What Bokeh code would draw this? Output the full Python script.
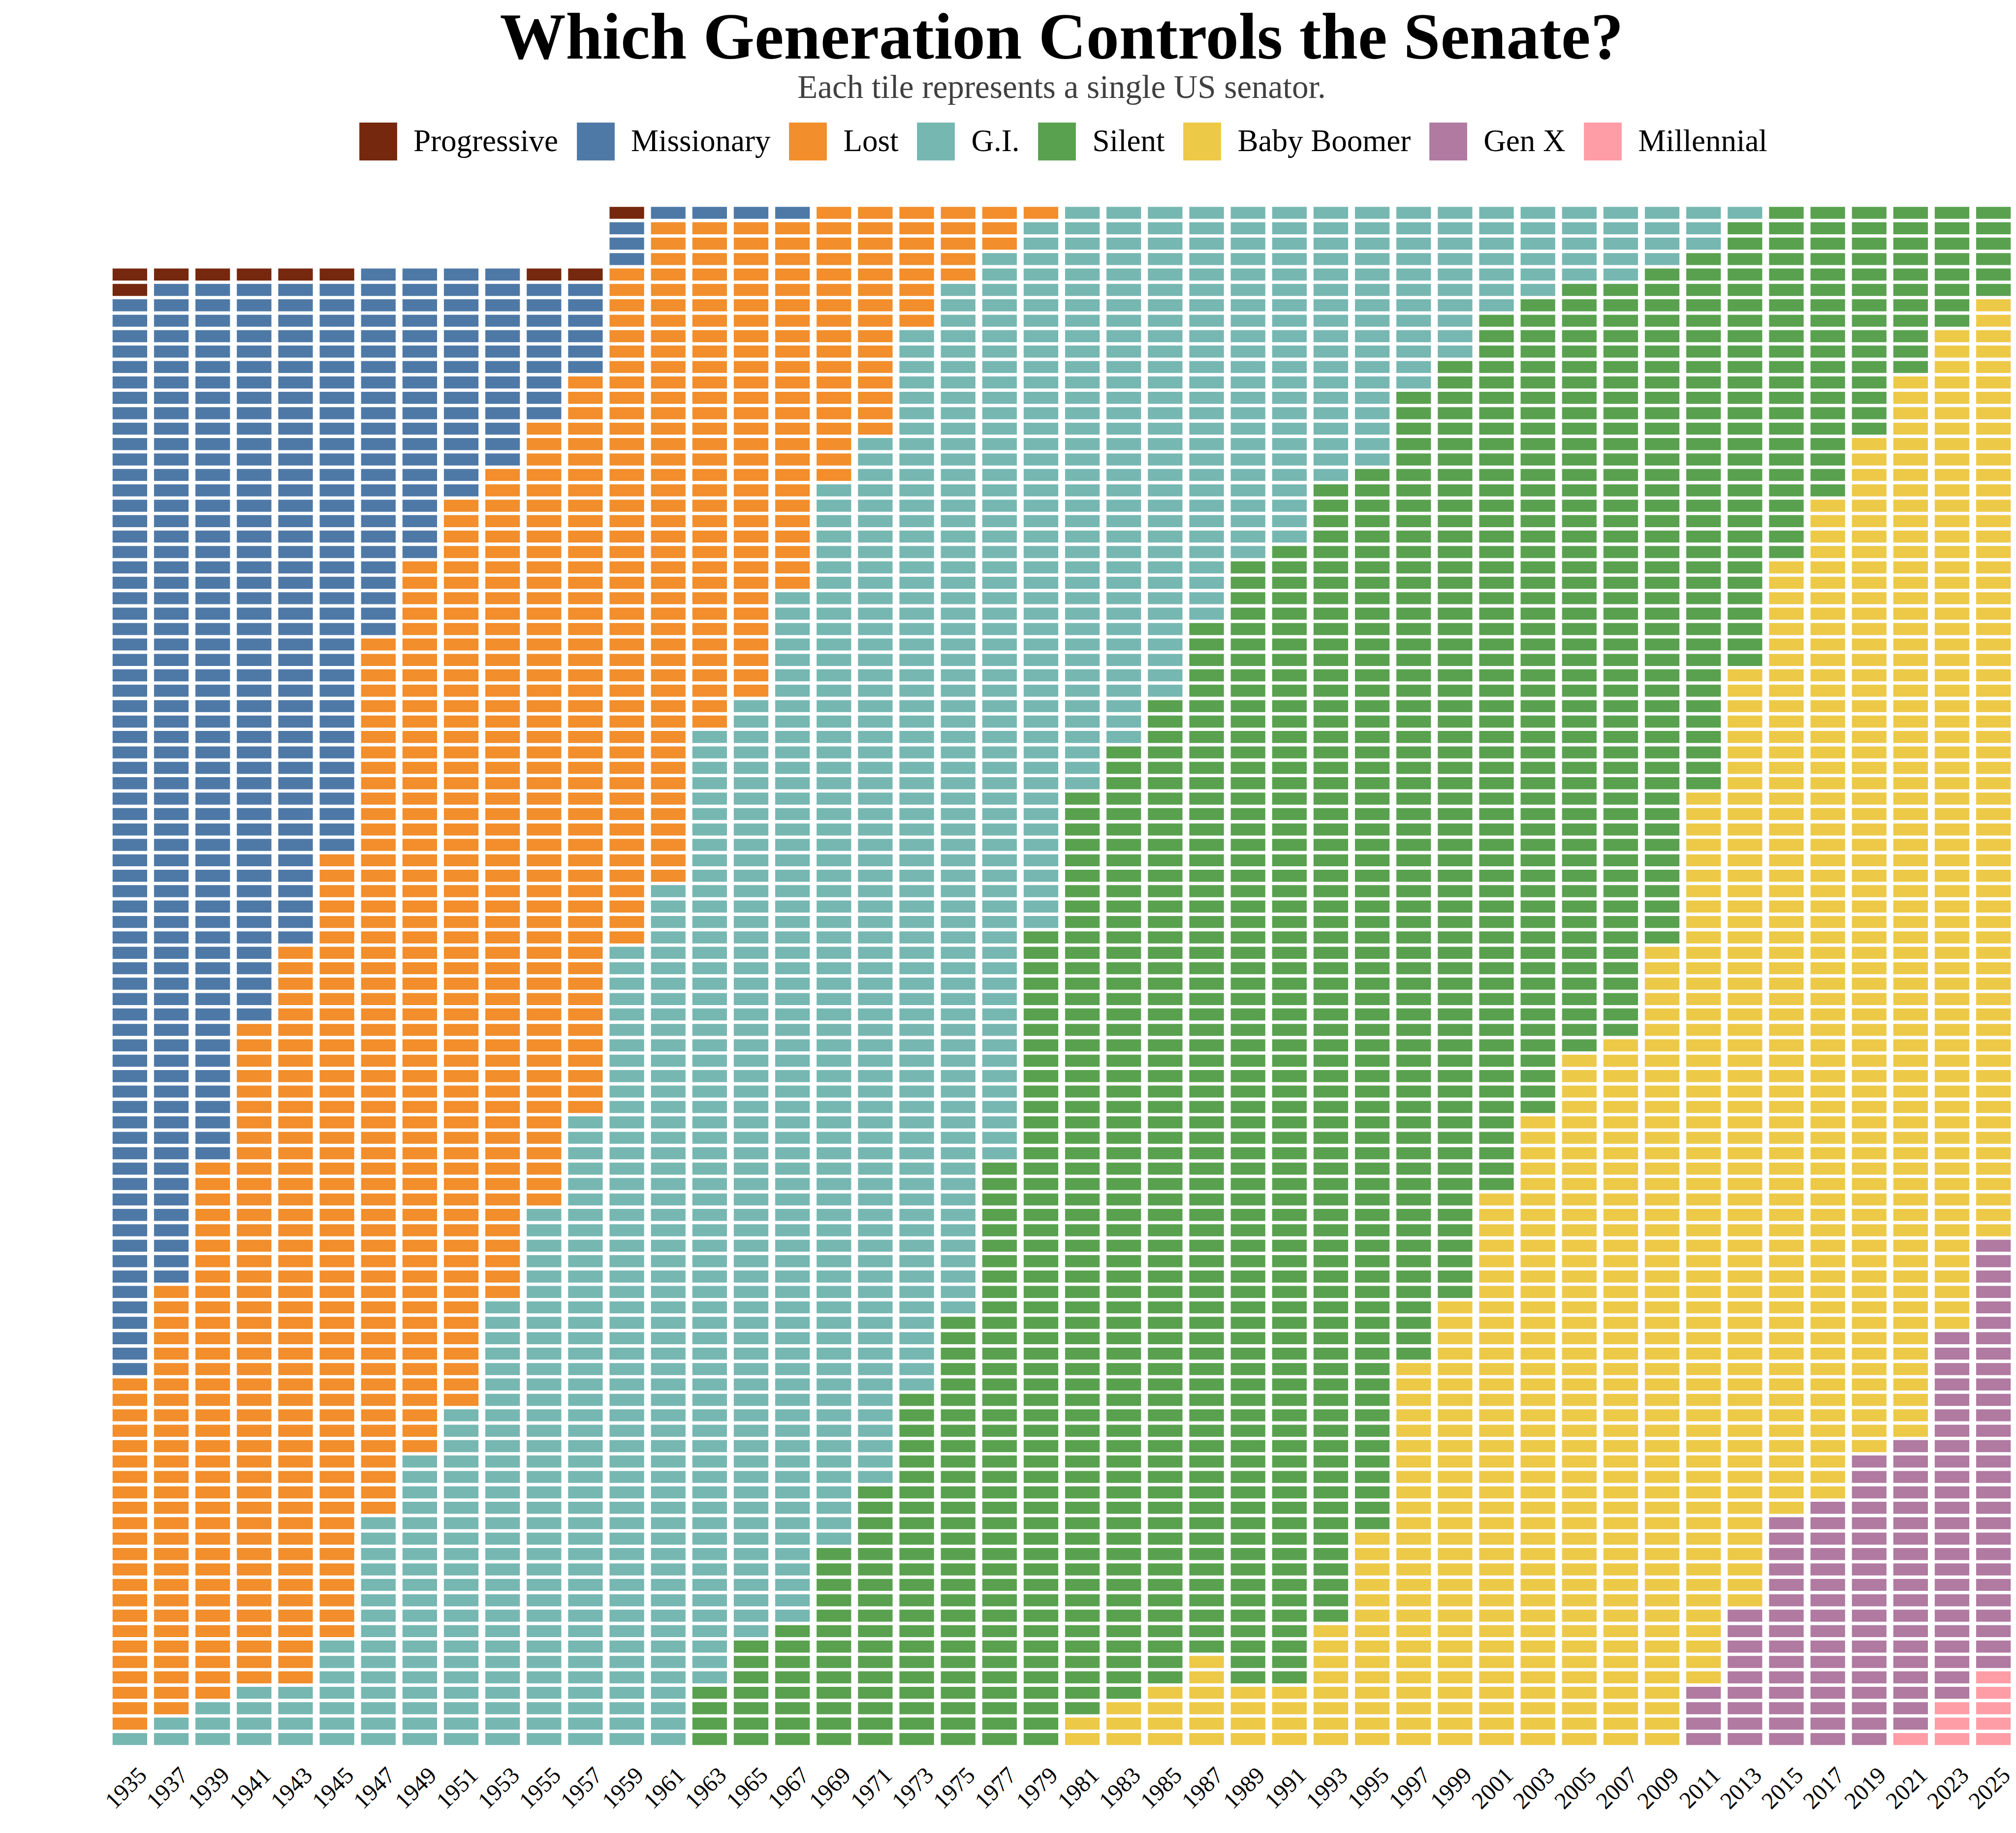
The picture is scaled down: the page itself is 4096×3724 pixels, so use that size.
import math
from bokeh.plotting import figure
from bokeh.models import ColumnDataSource, Range1d, FixedTicker, Legend, LegendItem, Label
from bokeh.embed import file_html
from bokeh.resources import INLINE

# ---------------- data ----------------
years = list(range(1935, 2027, 2))  # 46 Congresses

generations = ["Progressive", "Missionary", "Lost", "G.I.", "Silent",
               "Baby Boomer", "Gen X", "Millennial"]
colors = ["#76280E", "#4E79A7", "#F28E2B", "#76B7B2", "#59A14F",
          "#EDC948", "#B07AA1", "#FF9DA7"]

progressive = [2, 1, 1, 1, 1, 1, 0, 0, 0, 0, 1, 1, 1] + [0] * 33
missionary = [70, 65, 57, 48, 43, 37, 24, 19, 15, 13, 9, 6, 3, 1, 1, 1, 1] + [0] * 29
lost = [23, 28, 35, 43, 48, 51, 57, 58, 59, 54, 51, 48, 44, 43, 33, 31, 24, 18,
        15, 8, 5, 3, 1] + [0] * 23
gi = [1, 2, 3, 4, 4, 7, 15, 19, 22, 29, 35, 41, 52, 56, 62, 61, 67, 69, 68, 69,
      67, 59, 46, 38, 35, 32, 27, 23, 22, 18, 17, 12, 10, 7, 6, 5, 5, 4, 3, 1] + [0] * 6
silent = [0] * 14 + [4, 7, 8, 13, 17, 23, 28, 38, 53,
                     60, 62, 64, 67, 73, 74, 74, 69, 63, 61, 57, 53, 50, 49, 44,
                     35, 29, 23, 19, 15, 11, 8, 6]
boomer = [0] * 23 + [2, 3, 4, 6, 4, 4, 8, 14, 25, 29, 36, 41, 45, 46, 52,
                     58, 61, 62, 65, 66, 69, 65, 61]
genx = [0] * 38 + [4, 9, 15, 16, 19, 19, 24, 28]
millennial = [0] * 43 + [1, 3, 5]

counts = {
    "Progressive": progressive, "Missionary": missionary, "Lost": lost,
    "G.I.": gi, "Silent": silent, "Baby Boomer": boomer,
    "Gen X": genx, "Millennial": millennial,
}

# ---------------- tiles (stack youngest at bottom) ----------------
stack_order = list(reversed(generations))
tiles = {g: {"x": [], "y": [], "year": []} for g in generations}
for i, yr in enumerate(years):
    row = 1
    for g in stack_order:
        for _ in range(counts[g][i]):
            tiles[g]["x"].append(i)
            tiles[g]["y"].append(row)
            tiles[g]["year"].append(yr)
            row += 1

W, H = 4096, 3720
p = figure(width=W, height=H, output_backend="svg", toolbar_location=None,
           title=None, x_range=Range1d(-3.1305, 45.5509),
           y_range=Range1d(0.0613, 113.79), y_axis_location=None,
           min_border_left=0, min_border_right=0, min_border_top=0,
           min_border_bottom=158)
p.outline_line_color = None
p.grid.visible = False
p.background_fill_color = "white"
p.border_fill_color = "white"

items = []
for g, c in zip(generations, colors):
    src = ColumnDataSource(tiles[g])
    r = p.rect(x="x", y="y", width=0.835, height=0.78, source=src,
               fill_color=c, line_color=None)
    items.append(LegendItem(label=g, renderers=[r]))

legend = Legend(items=items, orientation="horizontal",
                location=(720.0, 3227.3), glyph_width=96, glyph_height=96,
                label_standoff=24, spacing=28, padding=0, margin=0,
                border_line_color=None, background_fill_alpha=0,
                label_text_font="Liberation Serif", label_text_font_size="63px",
                label_text_color="black", label_text_baseline="middle")
p.add_layout(legend)

# ---------------- x axis ----------------
lab_off = 0.305
tick_vals = [i + lab_off for i in range(len(years))]
ax = p.xaxis[0]
ax.ticker = FixedTicker(ticks=tick_vals)
ax.major_label_overrides = {t: str(yr) for t, yr in zip(tick_vals, years)}
ax.major_label_orientation = math.pi / 4
ax.major_label_text_font = "Liberation Serif"
ax.major_label_text_font_size = "48px"
ax.major_label_text_color = "black"
ax.major_label_standoff = 36
ax.major_tick_out = 0
ax.major_tick_in = 0
ax.minor_tick_out = 0
ax.minor_tick_in = 0
ax.axis_line_color = None

# ---------------- title & subtitle ----------------
p.add_layout(Label(x=22.5, y=111.43, text="Which Generation Controls the Senate?",
                   text_align="center", text_baseline="middle",
                   text_font="Liberation Serif", text_font_style="bold",
                   text_font_size="134px", text_color="black"))
p.add_layout(Label(x=22.5, y=108.19, text="Each tile represents a single US senator.",
                   text_align="center", text_baseline="middle",
                   text_font="Liberation Serif", text_font_size="67px",
                   text_color="#404040"))

open("out.html", "w").write(file_html(p, INLINE))
